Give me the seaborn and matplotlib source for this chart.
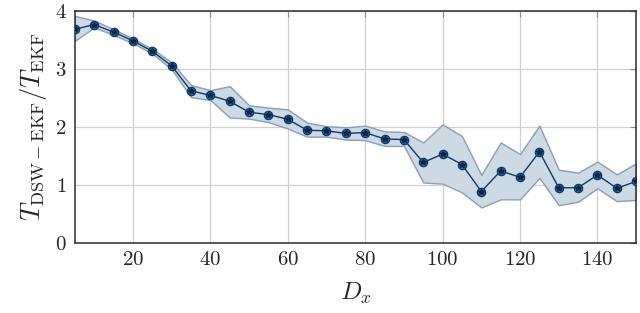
import numpy as np
import pandas as pd
import matplotlib
matplotlib.use("Agg")
import matplotlib.pyplot as plt
import seaborn as sns

# Размер окна D_x
d_x = [5, 10, 15, 20, 25, 30, 35, 40, 45, 50, 55, 60, 65, 70, 75,
       80, 85, 90, 95, 100, 105, 110, 115, 120, 125, 130, 135, 140, 145, 150]

# Отношение времени T_DSW-EKF / T_EKF (среднее)
ratio_mean = [3.68, 3.76, 3.63, 3.48, 3.30, 3.05, 2.62, 2.54, 2.44, 2.25,
              2.21, 2.13, 1.94, 1.93, 1.885, 1.90, 1.79, 1.78, 1.385, 1.53,
              1.35, 0.885, 1.24, 1.13, 1.57, 0.95, 0.95, 1.17, 0.94, 1.06]

# Границы разброса
ratio_max = [3.91, 3.83, 3.68, 3.52, 3.34, 3.11, 2.72, 2.63, 2.70, 2.37,
             2.33, 2.30, 2.07, 2.01, 1.99, 2.02, 1.92, 1.91, 1.73, 2.04,
             1.84, 1.17, 1.73, 1.53, 2.02, 1.26, 1.21, 1.40, 1.18, 1.37]
ratio_min = [3.48, 3.71, 3.58, 3.44, 3.26, 2.99, 2.51, 2.46, 2.16, 2.14,
             2.08, 1.97, 1.83, 1.83, 1.78, 1.77, 1.67, 1.67, 1.04, 1.02,
             0.87, 0.61, 0.75, 0.75, 1.12, 0.65, 0.71, 0.94, 0.72, 0.74]

df = pd.DataFrame({"Dx": d_x, "mean": ratio_mean, "lo": ratio_min, "hi": ratio_max})

sns.set_style("whitegrid")
plt.rcParams.update({
    "font.family": "serif",
    "font.serif": ["cmr10"],
    "mathtext.fontset": "cm",
    "axes.formatter.use_mathtext": True,
    "axes.unicode_minus": False,
})

line_color = "#0d3b66"
band_fill = "#cdd9e3"
band_edge = "#86a0b8"

fig = plt.figure(figsize=(6.4, 3.13), dpi=100)
ax = fig.add_axes([0.117, 0.224, 0.877, 0.742])

ax.fill_between(df["Dx"], df["lo"], df["hi"], facecolor=band_fill,
                edgecolor=band_edge, linewidth=1.0, zorder=2)
sns.lineplot(data=df, x="Dx", y="mean", ax=ax, color=line_color, linewidth=1.0,
             marker="o", markersize=6, markerfacecolor="#2f6290",
             markeredgecolor=line_color, markeredgewidth=0.9, zorder=3)
ax.plot(df["Dx"], df["mean"], linestyle="none", marker="*", markersize=4,
        color="#08284a", zorder=4)

ax.set_xlim(5, 150)
ax.set_ylim(0, 4)
ax.set_xticks([20, 40, 60, 80, 100, 120, 140])
ax.set_yticks([0, 1, 2, 3, 4])
ax.grid(True, color="#d0d0d0", linewidth=0.9)
for s in ax.spines.values():
    s.set_color("#2b2b2b")
    s.set_linewidth(1.1)
ax.tick_params(direction="in", length=4, width=0.8, color="#888888",
               top=True, right=True, labelsize=15, pad=6)

ax.set_xlabel(r"$D_x$", fontsize=18, labelpad=8)
ax.set_ylabel(r"$T_{\mathrm{DSW-EKF}}/T_{\mathrm{EKF}}$", fontsize=19, labelpad=4)

fig.savefig("out.png", dpi=100)
